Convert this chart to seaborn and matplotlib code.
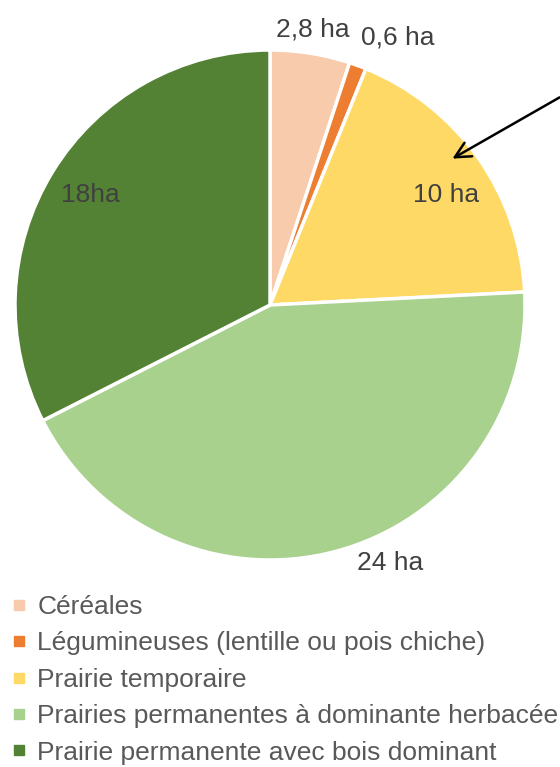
import seaborn as sns
import matplotlib.pyplot as plt
from matplotlib.lines import Line2D

# surfaces (ha)
categories = ['Céréales', 'Légumineuses (lentille ou pois chiche)', 'Prairie temporaire',
              'Prairies permanentes à dominante herbacée', 'Prairie permanente avec bois dominant']
surfaces = [2.8, 0.6, 10, 24, 18]
labels = ['2,8 ha', '0,6 ha', '10 ha', '24 ha', '18ha']
colors = ['#F8CBAD', '#ED7D31', '#FFD966', '#A9D18E', '#548235']

sns.set_theme(style="white")
plt.rcParams['font.family'] = ['Liberation Sans', 'DejaVu Sans']

W, H = 560, 767
fig = plt.figure(figsize=(W / 100, H / 100), dpi=100)
ax = fig.add_axes([0, 0, 1, 1])

cx, cy, r = 270, H - 305, 255
ax.pie(surfaces, colors=colors, startangle=90, counterclock=False,
       center=(cx, cy), radius=r,
       wedgeprops=dict(edgecolor='white', linewidth=2.5))
ax.set_xlim(0, W)
ax.set_ylim(0, H)
ax.set_aspect('equal')
ax.axis('off')

# value labels (pixel positions from the picture)
label_pos = [(313, 30), (398, 38), (446, 195), (390, 563), (90, 195)]
for txt, (px, py) in zip(labels, label_pos):
    ax.text(px, H - py, txt, ha='center', va='center', fontsize=19, color='#404040')

# arrow pointing into "Prairie temporaire"
ax.annotate('', xy=(450, H - 160), xytext=(562, H - 96),
            arrowprops=dict(arrowstyle='->', color='black', lw=1.8, mutation_scale=28))

handles = [Line2D([0], [0], marker='s', linestyle='none', markersize=7.5,
                  markerfacecolor=c, markeredgecolor=c) for c in colors]
leg = fig.legend(handles, categories, loc='upper left', bbox_to_anchor=(0.022, 1 - 595 / H),
                 frameon=False, fontsize=19, handlelength=0.5, handletextpad=0.45,
                 labelspacing=0.47, borderaxespad=0, borderpad=0)
for t in leg.get_texts():
    t.set_color('#595959')

fig.savefig('out.png', dpi=100)
